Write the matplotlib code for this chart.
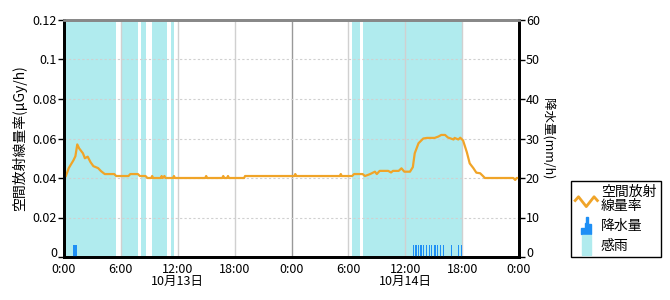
import numpy as np
import matplotlib
matplotlib.use('Agg')
import matplotlib.pyplot as plt
from matplotlib.lines import Line2D
from matplotlib.patches import Patch, Polygon, Rectangle
from matplotlib.legend_handler import HandlerBase

plt.rcParams['font.family'] = ['Noto Sans CJK JP', 'DejaVu Sans']
plt.rcParams['axes.unicode_minus'] = False

# 空間放射線量率 (hours from 10/13 0:00, uGy/h)
rad_hours = [0.2, 0.5, 1.0, 1.2, 1.4, 1.6, 2.0, 2.2, 2.5, 2.8, 3.1, 3.6, 3.9, 4.3, 5.3, 5.5,
             6.8, 7.0, 7.8, 8.0, 8.6, 8.8, 9.2, 9.3, 9.4, 10.2, 10.3, 10.4, 10.6, 10.7,
             11.5, 11.6, 11.7, 14.9, 15.0, 15.1, 16.7, 16.8, 16.9, 17.2, 17.3, 17.4,
             19.0, 19.1, 19.3, 24.3, 24.4, 24.5, 29.1, 29.2, 29.3, 30.4, 30.6, 31.5,
             31.75, 32.3, 32.8, 33.0, 33.3, 33.7, 34.2, 34.5, 34.7, 35.3, 35.6, 35.9,
             36.5, 36.8, 37.0, 37.4, 37.9, 38.3, 39.1, 39.5, 39.8, 40.2, 40.5, 41.1,
             41.2, 41.6, 41.8, 42.1, 42.5, 42.8, 43.2, 43.5, 43.9, 44.2, 44.4, 47.4,
             47.6, 47.75, 48.0]
rad_values = [0.041, 0.045, 0.049, 0.051, 0.057, 0.055, 0.0525, 0.050, 0.0508, 0.048, 0.046,
              0.045, 0.0435, 0.042, 0.042, 0.041,
              0.041, 0.042, 0.042, 0.041, 0.041, 0.040, 0.040, 0.041, 0.040, 0.040, 0.041,
              0.040, 0.041, 0.040,
              0.040, 0.041, 0.040, 0.040, 0.041, 0.040, 0.040, 0.041, 0.040, 0.040, 0.041,
              0.040,
              0.040, 0.041, 0.041, 0.041, 0.042, 0.041, 0.041, 0.042, 0.041, 0.041, 0.042,
              0.042,
              0.041, 0.042, 0.0432, 0.042, 0.0436, 0.0436, 0.0436, 0.0428, 0.0436, 0.0436,
              0.0449, 0.0432,
              0.0432, 0.0455, 0.0525, 0.0576, 0.060, 0.0603, 0.0603, 0.061, 0.0618, 0.0618,
              0.0605, 0.0595,
              0.0603, 0.0595, 0.0604, 0.059, 0.053, 0.0474, 0.0449, 0.0427, 0.0424, 0.041,
              0.040, 0.040,
              0.039, 0.040, 0.040]

# 感雨 periods (start, end hours)
sense_start = [0.0, 6.15, 8.1, 9.3, 11.25, 30.35, 31.55]
sense_end = [5.45, 7.8, 8.65, 10.9, 11.6, 31.2, 42.05]

# 降水量 (mm/h), 10-minute slots
rain1_hours = [1.0, 1.17, 1.33]
rain1_values = [3, 3, 3]
rain2_hours = [36.9, 37.07, 37.23, 37.4, 37.57, 37.73, 37.9, 38.23, 38.4, 38.57, 38.73,
               39.07, 39.23, 39.4, 39.73, 40.07, 40.9, 41.57, 41.9]
rain2_values = [3] * len(rain2_hours)

xtick_hours = [0, 6, 12, 18, 24, 30, 36, 42, 48]
xtick_labels = ['0:00', '6:00', '12:00', '18:00', '0:00', '6:00', '12:00', '18:00', '0:00']
date_hours = [12, 36]
date_labels = ['10月13日', '10月14日']

line_color = '#F0A428'
rain_color = '#1E8FF5'
sense_color = '#B0EBEE'


class ZigzagHandler(HandlerBase):
    def create_artists(self, legend, orig_handle, xdescent, ydescent, width, height, fontsize, trans):
        xs = np.array([0.0, 0.15, 0.5, 0.85, 1.0]) * width - xdescent
        ys = np.array([0.45, 0.7, 0.05, 0.7, 0.45]) * height - ydescent
        return [Line2D(xs, ys, color=line_color, lw=2, transform=trans)]


class StepHandler(HandlerBase):
    def create_artists(self, legend, orig_handle, xdescent, ydescent, width, height, fontsize, trans):
        fx = [0.25, 0.25, 0.42, 0.42, 0.5, 0.5, 0.58, 0.58, 0.7, 0.7, 0.25]
        fy = [-0.1, 0.3, 0.3, 0.65, 0.65, 1.05, 1.05, 0.55, 0.55, -0.1, -0.1]
        pts = [(x * width - xdescent, y * height - ydescent) for x, y in zip(fx, fy)]
        return [Polygon(pts, closed=True, color=rain_color, transform=trans)]


class BoxHandler(HandlerBase):
    def create_artists(self, legend, orig_handle, xdescent, ydescent, width, height, fontsize, trans):
        r = Rectangle((0.32 * width - xdescent, -0.15 * height - ydescent), 0.38 * width, 1.3 * height,
                      color=sense_color, transform=trans)
        return [r]


fig = plt.figure(figsize=(6.7, 3.0), dpi=100)
ax = fig.add_axes([64 / 670, 43 / 300, 455 / 670, 237 / 300])
ax2 = ax.twinx()

for s, e in zip(sense_start, sense_end):
    ax.axvspan(s, e, color=sense_color, lw=0, zorder=0.5)

for h in xtick_hours[1:-1]:
    ax.axvline(h, color='#999999' if h == 24 else '#d0d0d0', lw=1, zorder=0.8)
for v in [0.02, 0.04, 0.06, 0.08, 0.1]:
    ax.axhline(v, color='#d0d0d0', lw=0.8, ls=(0, (2, 2)), zorder=0.8)

ax.plot(rad_hours, rad_values, color=line_color, lw=1.6, zorder=3)

ax2.bar(rain1_hours, rain1_values, width=1 / 6, color=rain_color, lw=0)
ax2.bar(rain2_hours, rain2_values, width=0.1, color=rain_color, lw=0)

ax.set_xlim(0, 48)
ax.set_ylim(0, 0.12)
ax2.set_ylim(0, 60)
ax.set_xticks(xtick_hours)
ax.set_xticklabels(xtick_labels)
ax.set_yticks([0, 0.02, 0.04, 0.06, 0.08, 0.1, 0.12])
ax.set_yticklabels(['0', '0.02', '0.04', '0.06', '0.08', '0.1', '0.12'])
ax2.set_yticks([0, 10, 20, 30, 40, 50, 60])

ax.tick_params(axis='x', length=0, pad=4, labelsize=9)
ax.tick_params(axis='y', length=4, width=1, pad=1, labelsize=9, direction='out')
ax2.tick_params(axis='y', length=4, width=1, pad=1, labelsize=9, direction='out')
# keep the two "0" labels clear of the time labels underneath
ax.get_yticklabels()[0].set_verticalalignment('baseline')
ax2.get_yticklabels()[0].set_verticalalignment('baseline')

for a in (ax, ax2):
    for side in ('left', 'right', 'bottom'):
        a.spines[side].set_color('black')
        a.spines[side].set_linewidth(2)
    a.spines['top'].set_color('#888888')
    a.spines['top'].set_linewidth(2)

for h, lab in zip(date_hours, date_labels):
    ax.text(h, -0.075, lab, transform=ax.get_xaxis_transform(), ha='center', va='top', fontsize=9)

ax.set_ylabel('空間放射線量率(μGy/h)', fontsize=10, labelpad=4)
ax2.set_ylabel('降水量(mm/h)', fontsize=9, rotation=270, labelpad=10)

handles = [Line2D([], [], color=line_color), Patch(color=rain_color), Patch(color=sense_color)]
labels = ['空間放射\n線量率', '降水量', '感雨']
leg = fig.legend(handles, labels, loc='lower left', bbox_to_anchor=(571 / 670, 43 / 300),
                 handler_map={handles[0]: ZigzagHandler(), handles[1]: StepHandler(),
                              handles[2]: BoxHandler()},
                 fontsize=10, frameon=True, fancybox=False, edgecolor='black',
                 handlelength=1.6, handleheight=1.3, handletextpad=0.25, labelspacing=0.35,
                 borderpad=0.3, borderaxespad=0)
leg.get_frame().set_linewidth(1)
leg.get_frame().set_alpha(1)
for t in leg.get_texts():
    t.set_linespacing(0.95)

fig.savefig('out.png', dpi=100)
